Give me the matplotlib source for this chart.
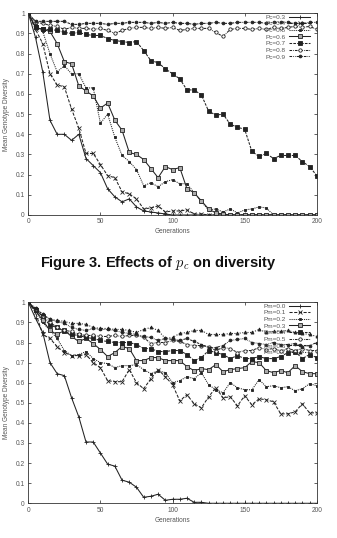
import matplotlib
matplotlib.use('Agg')
import matplotlib.pyplot as plt

plt.rcParams['font.family'] = ['Liberation Sans', 'DejaVu Sans']
plt.rcParams['mathtext.fontset'] = 'cm'

gens = list(range(0, 205, 5))

# top chart: effect of crossover probability
pc_labels = ['Pc=0.3', 'Pc=0.4', 'Pc=0.5', 'Pc=0.6', 'Pc=0.7', 'Pc=0.8', 'Pc=0.9']
pc3 = [1.0, 0.88, 0.71, 0.47, 0.40, 0.40, 0.37, 0.40, 0.28, 0.245, 0.21, 0.13, 0.09, 0.065, 0.08, 0.04,
       0.02, 0.015, 0.01, 0.005] + [0.0] * 21
pc4 = [1.0, 0.92, 0.85, 0.70, 0.645, 0.635, 0.525, 0.43, 0.305, 0.305, 0.25, 0.195, 0.185, 0.115, 0.105,
       0.08, 0.03, 0.035, 0.045, 0.015, 0.02, 0.02, 0.025, 0.005, 0.005] + [0.0] * 16
pc5 = [1.0, 0.94, 0.91, 0.80, 0.71, 0.74, 0.70, 0.70, 0.63, 0.63, 0.455, 0.50, 0.385, 0.295, 0.265, 0.225,
       0.145, 0.16, 0.14, 0.165, 0.175, 0.155, 0.155, 0.11, 0.065, 0.025, 0.03, 0.015, 0.03, 0.01, 0.025,
       0.03, 0.04, 0.035] + [0.0] * 7
pc6 = [1.0, 0.93, 0.92, 0.91, 0.85, 0.76, 0.75, 0.64, 0.615, 0.59, 0.53, 0.555, 0.47, 0.42, 0.31, 0.30,
       0.275, 0.23, 0.185, 0.24, 0.225, 0.235, 0.13, 0.11, 0.07, 0.03, 0.01, 0.005] + [0.0] * 13
pc7 = [1.0, 0.93, 0.92, 0.92, 0.915, 0.905, 0.90, 0.905, 0.895, 0.89, 0.89, 0.875, 0.865, 0.86, 0.855,
       0.86, 0.815, 0.765, 0.755, 0.725, 0.70, 0.675, 0.62, 0.62, 0.595, 0.515, 0.495, 0.50, 0.45, 0.435,
       0.425, 0.315, 0.29, 0.305, 0.28, 0.295, 0.295, 0.295, 0.265, 0.24, 0.195]
pc8 = [1.0, 0.955, 0.95, 0.94, 0.935, 0.92, 0.93, 0.925, 0.925, 0.92, 0.925, 0.915, 0.90, 0.915, 0.925,
       0.93, 0.93, 0.925, 0.93, 0.925, 0.93, 0.915, 0.92, 0.925, 0.925, 0.925, 0.905, 0.885, 0.92, 0.925,
       0.925, 0.92, 0.925, 0.92, 0.93, 0.925, 0.93, 0.935, 0.93, 0.935, 0.92]
pc9 = [1.0, 0.96, 0.96, 0.96, 0.96, 0.96, 0.945, 0.945, 0.95, 0.95, 0.95, 0.945, 0.95, 0.95, 0.955,
       0.955, 0.955, 0.95, 0.955, 0.95, 0.955, 0.95, 0.95, 0.945, 0.95, 0.95, 0.955, 0.95, 0.95, 0.955,
       0.955, 0.955, 0.955, 0.95, 0.955, 0.955, 0.955, 0.95, 0.95, 0.955, 0.955]

# bottom chart: effect of mutation probability
pm_labels = ['Pm=0.0', 'Pm=0.1', 'Pm=0.2', 'Pm=0.3', 'Pm=0.4', 'Pm=0.5', 'Pm=0.6', 'Pm=0.7']
pm0 = list(pc4)
pm1 = [1.0, 0.95, 0.84, 0.82, 0.78, 0.75, 0.735, 0.735, 0.74, 0.70, 0.675, 0.61, 0.605, 0.605, 0.665,
       0.60, 0.57, 0.62, 0.665, 0.63, 0.59, 0.51, 0.54, 0.495, 0.475, 0.53, 0.575, 0.525, 0.53, 0.485,
       0.535, 0.49, 0.52, 0.515, 0.505, 0.445, 0.445, 0.455, 0.495, 0.45, 0.45]
pm2 = [1.0, 0.96, 0.90, 0.86, 0.82, 0.76, 0.735, 0.74, 0.755, 0.72, 0.70, 0.695, 0.675, 0.685, 0.685,
       0.69, 0.665, 0.645, 0.66, 0.65, 0.60, 0.61, 0.63, 0.62, 0.65, 0.59, 0.565, 0.55, 0.60, 0.575,
       0.565, 0.565, 0.615, 0.58, 0.585, 0.575, 0.58, 0.56, 0.57, 0.595, 0.585]
pm3 = [1.0, 0.96, 0.91, 0.86, 0.84, 0.86, 0.83, 0.805, 0.82, 0.795, 0.765, 0.73, 0.75, 0.78, 0.77,
       0.71, 0.71, 0.725, 0.725, 0.71, 0.71, 0.71, 0.68, 0.66, 0.67, 0.665, 0.69, 0.655, 0.665, 0.67,
       0.675, 0.705, 0.70, 0.66, 0.65, 0.66, 0.65, 0.685, 0.655, 0.645, 0.645]
pm4 = [1.0, 0.96, 0.93, 0.885, 0.875, 0.855, 0.84, 0.835, 0.825, 0.82, 0.81, 0.805, 0.80, 0.80, 0.80,
       0.79, 0.77, 0.77, 0.755, 0.755, 0.76, 0.76, 0.74, 0.71, 0.725, 0.76, 0.75, 0.74, 0.72, 0.735,
       0.72, 0.72, 0.73, 0.72, 0.72, 0.73, 0.75, 0.755, 0.72, 0.74, 0.725]
pm5 = [1.0, 0.965, 0.93, 0.90, 0.875, 0.86, 0.855, 0.84, 0.835, 0.835, 0.83, 0.83, 0.835, 0.83, 0.835,
       0.835, 0.825, 0.795, 0.80, 0.80, 0.81, 0.805, 0.79, 0.785, 0.785, 0.78, 0.76, 0.775, 0.77, 0.75,
       0.76, 0.76, 0.775, 0.765, 0.77, 0.76, 0.77, 0.76, 0.77, 0.76, 0.76]
pm6 = [1.0, 0.97, 0.94, 0.915, 0.905, 0.895, 0.875, 0.865, 0.86, 0.87, 0.865, 0.865, 0.86, 0.85, 0.845,
       0.84, 0.83, 0.825, 0.81, 0.82, 0.815, 0.81, 0.82, 0.805, 0.79, 0.775, 0.775, 0.785, 0.81, 0.815,
       0.82, 0.80, 0.795, 0.79, 0.80, 0.79, 0.79, 0.795, 0.78, 0.785, 0.80]
pm7 = [1.0, 0.97, 0.94, 0.915, 0.91, 0.905, 0.895, 0.895, 0.89, 0.875, 0.87, 0.87, 0.865, 0.865, 0.86,
       0.85, 0.865, 0.875, 0.86, 0.82, 0.825, 0.845, 0.85, 0.86, 0.86, 0.84, 0.84, 0.84, 0.845, 0.845,
       0.85, 0.85, 0.865, 0.85, 0.855, 0.855, 0.86, 0.85, 0.845, 0.84, 0.83]

# gnuplot-ish line/point types
styles = [
    dict(ls='-', marker='+', ms=3.0, mfc='#222'),
    dict(ls=(0, (3, 1.5)), marker='x', ms=2.5, mfc='#222'),
    dict(ls=(0, (1, 1)), marker='s', ms=1.8, mfc='#222'),
    dict(ls='-', marker='s', ms=2.6, mfc='#aaaaaa'),
    dict(ls=(0, (2.5, 1.2)), marker='s', ms=2.2, mfc='#222'),
    dict(ls=(0, (2.5, 1, 0.7, 1)), marker='o', ms=2.4, mfc='white'),
    dict(ls=(0, (2.5, 1, 0.7, 1, 0.7, 1)), marker='o', ms=2.0, mfc='#222'),
    dict(ls=(0, (1, 1.5)), marker='^', ms=2.2, mfc='#222'),
]

ink = '#222222'
tick_col = '#555555'


def drawPanel(ax, series, labels):
    for i, vals in enumerate(series):
        st = styles[i]
        ax.plot(gens, vals, color=ink, lw=0.75, ls=st['ls'], marker=st['marker'], ms=st['ms'],
                mfc=st['mfc'], mec=ink, mew=0.6, label=labels[i])
    ax.set_xlim(0, 200)
    ax.set_ylim(0, 1)
    ax.set_xticks([0, 50, 100, 150, 200])
    ax.set_yticks([0, 0.1, 0.2, 0.3, 0.4, 0.5, 0.6, 0.7, 0.8, 0.9, 1])
    ax.set_yticklabels(['0', '0.1', '0.2', '0.3', '0.4', '0.5', '0.6', '0.7', '0.8', '0.9', '1'])
    ax.tick_params(direction='in', length=2.2, width=0.5, top=True, right=True, labelsize=4.8,
                   colors=ink, labelcolor=tick_col, pad=2.5)
    for sp in ax.spines.values():
        sp.set_linewidth(0.6)
        sp.set_color('#333333')
    ax.set_xlabel('Generations', fontsize=4.7, color=tick_col, labelpad=2)
    ax.set_ylabel('Mean Genotype Diversity', fontsize=4.7, color=tick_col, labelpad=4)
    leg = ax.legend(loc='upper right', bbox_to_anchor=(0.977, 0.995), frameon=False, fontsize=4.6,
                    markerfirst=False, numpoints=1, handlelength=3.3, handletextpad=0.5,
                    labelspacing=0.18, borderpad=0, borderaxespad=0)
    for t in leg.get_texts():
        t.set_color(tick_col)


fig = plt.figure(figsize=(3.37, 5.38), dpi=100)

ax1 = fig.add_axes([0.084, 0.6004, 0.856, 0.3749])
drawPanel(ax1, [pc3, pc4, pc5, pc6, pc7, pc8, pc9], pc_labels)

fig.text(0.47, 0.511, r'Figure 3. Effects of $p_c$ on diversity', ha='center', va='center',
         fontsize=10.5, fontweight='bold', color='#111111')

ax2 = fig.add_axes([0.084, 0.0645, 0.856, 0.3736])
drawPanel(ax2, [pm0, pm1, pm2, pm3, pm4, pm5, pm6, pm7], pm_labels)

fig.savefig('out.png', dpi=100)
